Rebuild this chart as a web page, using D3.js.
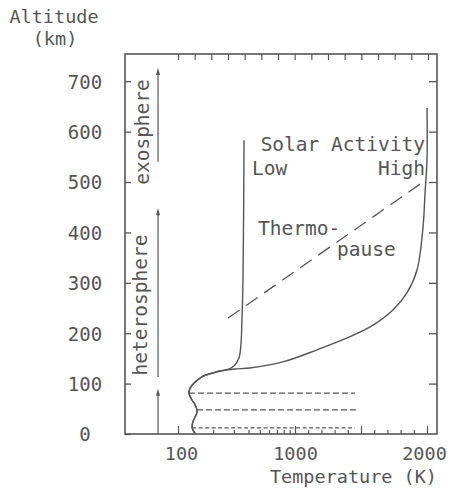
<!DOCTYPE html>
<html><head><meta charset="utf-8">
<script src="https://cdn.jsdelivr.net/npm/d3@7"></script>
<style>
body{margin:0;background:#fff;}
text{font-family:"DejaVu Sans Mono",monospace;fill:#555;}
</style></head>
<body><svg id="c" width="449" height="492"></svg>
<script>
// ---- data ----
const lowAlt  = [0, 12, 24, 42, 48, 58, 67, 81, 91, 103, 115, 121, 125, 127, 135, 151, 177, 226, 300, 583];
const lowTemp = [141, 132, 134, 145, 145, 140, 132, 124, 127, 140, 164, 199, 229, 257, 301, 332, 345, 352, 359, 367];
const highAlt  = [0, 12, 24, 42, 48, 58, 67, 81, 91, 103, 115, 121, 125, 129, 131, 143, 167, 193, 216, 246, 280, 325, 411, 478, 544, 647];
const highTemp = [141, 132, 134, 145, 145, 140, 132, 124, 127, 140, 164, 199, 229, 307, 412, 788, 1167, 1417, 1591, 1742, 1848, 1924, 1970, 1985, 2000, 2000];
const pauseAlt = [81, 48, 12];              // mesopause, stratopause, tropopause
const pauseStart = [124, 145, 132];
const pauseEnd = [1455, 1477, 1455];
const thermoAlt = [230, 500];
const thermoTemp = [268, 1970];
const arrowFrom = [0, 113, 540];
const arrowTo = [90, 448, 726];
const arrowTemp = 67.5;
const yTicks = [0, 100, 200, 300, 400, 500, 600, 700];
const xLogTicks = [100, 200, 300, 400, 500, 600, 700, 800, 900];
const xLinTicks = [1000, 1100, 1200, 1300, 1400, 1500, 1600, 1700, 1800, 1900, 2000];
const xLabels = [100, 1000, 2000];
const xMajor = [100, 1000, 1500, 2000];
const topTickCount = 16;

// ---- scales ----
const col = "#555";
const svg = d3.select("#c");
const yMax = 754;
const y = d3.scaleLinear().domain([0, yMax]).range([434, 54]);
const xLog = d3.scaleLog().domain([100, 1000]).range([178, 295]);
const xLin = d3.scaleLinear().domain([1000, 2000]).range([295, 427]);
const x = t => t <= 1000 ? xLog(t) : xLin(t);
const xMin = xLog.invert(125), xMaxT = xLin.invert(437);
const L = x(xMin), R = x(xMaxT), T = y(yMax), B = y(0);

// frame
svg.append("rect").attr("x", L).attr("y", T).attr("width", R - L).attr("height", B - T)
  .attr("fill", "none").attr("stroke", col).attr("stroke-width", 1.6);

// left axis
const gl = svg.append("g").attr("transform", `translate(${L},0)`)
  .call(d3.axisLeft(y).tickValues(yTicks).tickSize(-6).tickFormat(d3.format("d")));
gl.select(".domain").remove();
gl.selectAll("line").attr("stroke", col).attr("stroke-width", 1.3);
gl.selectAll("text").attr("text-anchor", "middle").attr("x", 85 - L).attr("dy", "0.36em")
  .style("font-size", "19px").attr("fill", col);

// right axis
const gr = svg.append("g").attr("transform", `translate(${R},0)`)
  .call(d3.axisRight(y).tickValues(yTicks.filter(d => d > 0)).tickSize(-8).tickFormat(""));
gr.select(".domain").remove();
gr.selectAll("line").attr("stroke", col).attr("stroke-width", 1.3);

// top axis
const xTop = d3.scaleLinear().domain([0, topTickCount - 1]).range([x(100), 428]);
const gt = svg.append("g").attr("transform", `translate(0,${T})`)
  .call(d3.axisTop(xTop).tickValues(d3.range(topTickCount)).tickSize(-6).tickFormat(""));
gt.select(".domain").remove();
gt.selectAll("line").attr("stroke", col).attr("stroke-width", 1.2);

// bottom axes
function bottom(scale, vals) {
  const g = svg.append("g").attr("transform", `translate(0,${B})`)
    .call(d3.axisBottom(scale).tickValues(vals).tickSize(-4).tickPadding(13)
      .tickFormat(d => xLabels.includes(d) ? String(d) : ""));
  g.select(".domain").remove();
  g.selectAll("line").attr("stroke", col).attr("stroke-width", 1.2)
    .attr("y2", d => xMajor.includes(d) ? -8 : -4);
  g.selectAll("text").style("font-size", "18.5px").attr("fill", col)
    .attr("dx", d => d === 100 ? 3 : d === 2000 ? -3 : 0);
  return g;
}
bottom(xLog, xLogTicks);
bottom(xLin, xLinTicks);

// curves
const line = d3.line().curve(d3.curveCatmullRom.alpha(0.5));
svg.append("path").attr("d", line(lowAlt.map((a, i) => [x(lowTemp[i]), y(a)])))
  .attr("fill", "none").attr("stroke", col).attr("stroke-width", 1.4);
svg.append("path").attr("d", line(highAlt.map((a, i) => [x(highTemp[i]), y(a)])))
  .attr("fill", "none").attr("stroke", col).attr("stroke-width", 1.4);

// pause dashed lines
pauseAlt.forEach((a, i) => {
  svg.append("line").attr("x1", x(pauseStart[i])).attr("x2", x(pauseEnd[i]))
    .attr("y1", y(a)).attr("y2", y(a)).attr("stroke", col).attr("stroke-width", 1.2)
    .attr("stroke-dasharray", i === 2 ? "4,2.5" : "6,3");
});

// thermopause
svg.append("line").attr("x1", x(thermoTemp[0])).attr("y1", y(thermoAlt[0]))
  .attr("x2", x(thermoTemp[1])).attr("y2", y(thermoAlt[1]))
  .attr("stroke", col).attr("stroke-width", 1.3).attr("stroke-dasharray", "14,8");

// arrows
const ax = x(arrowTemp);
arrowFrom.forEach((f, i) => {
  svg.append("line").attr("x1", ax).attr("x2", ax).attr("y1", y(f)).attr("y2", y(arrowTo[i]) + 3)
    .attr("stroke", col).attr("stroke-width", 1.2);
  const ty = y(arrowTo[i]);
  svg.append("path").attr("d", `M${ax},${ty} L${ax - 2},${ty + 7} L${ax + 2},${ty + 7} Z`).attr("fill", col);
});

// texts
function txt(s, tx, ty, anchor, rot, fs) {
  const t = svg.append("text").text(s).attr("text-anchor", anchor || "start").style("font-size", (fs || 19) + "px");
  if (rot) t.attr("transform", `translate(${tx},${ty}) rotate(-90)`).attr("dy", "0.36em");
  else t.attr("x", tx).attr("y", ty);
  return t;
}
txt("Altitude", 54, 23, "middle", false, 18.5);
txt("(km)", 55, 45, "middle", false, 18.5);
txt("Solar Activity", 425, 151, "end", false, 19.5);
txt("Low", 252, 175, "start", false, 19.5);
txt("High", 425, 175, "end", false, 19.5);
txt("Thermo-", 258, 235, "start", false, 19.5);
txt("pause", 337, 256, "start", false, 19.5);
txt("exosphere", 142, 132, "middle", true, 19.5);
txt("heterosphere", 140, 305, "middle", true, 19.5);
txt("Temperature (K)", 437, 483, "end", false, 18.5);
</script></body></html>
